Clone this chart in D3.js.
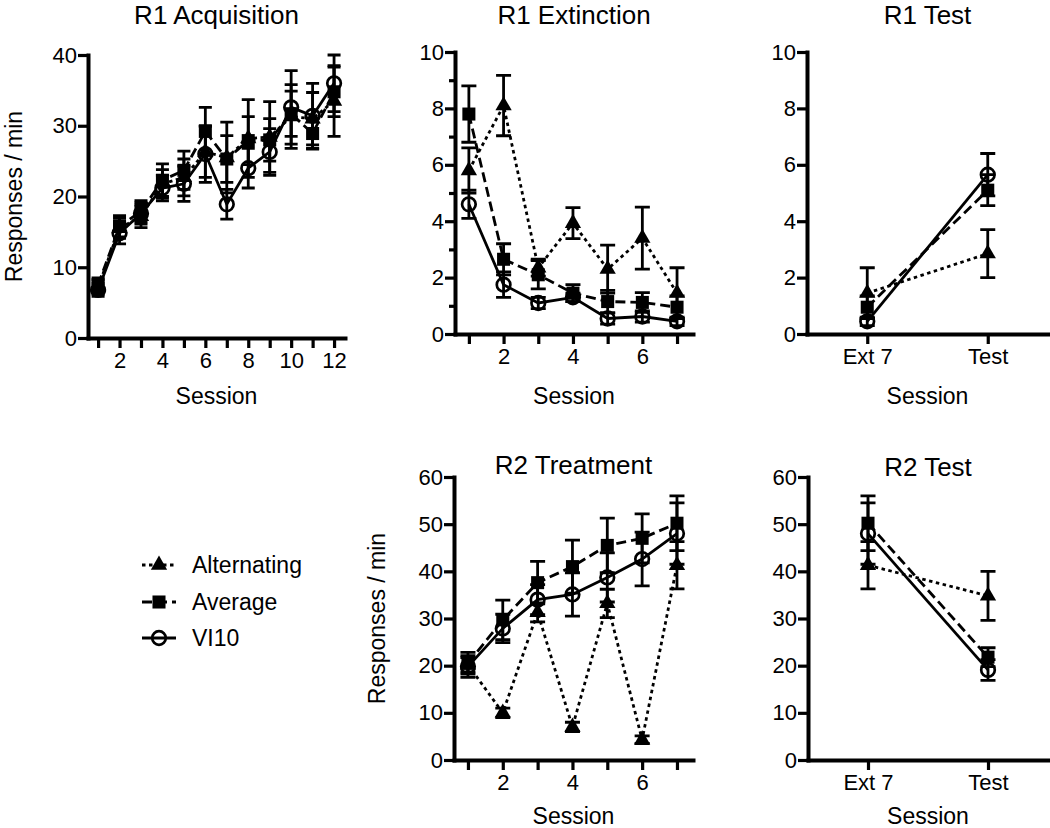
<!DOCTYPE html>
<html>
<head>
<meta charset="utf-8">
<script src="https://cdn.jsdelivr.net/npm/d3@7"></script>
<style>
  body { margin: 0; background: #fff; }
  svg text { font-family: "Liberation Sans", Arial, sans-serif; fill: #000; }
</style>
</head>
<body>
<svg id="chart" width="1050" height="828"></svg>
<script>
// R1 Acquisition (sessions 1-12)
var acqSessions = [1, 2, 3, 4, 5, 6, 7, 8, 9, 10, 11, 12];
var acqAlt = [7.2, 15.5, 17.2, 21.8, 22.7, 26.3, 25.5, 28.2, 28.4, 31.3, 31.0, 33.5];
var acqAltSem = [1.0, 1.4, 1.6, 2.0, 2.6, 3.6, 5.0, 5.5, 5.0, 4.5, 3.7, 5.0];
var acqAvg = [7.5, 15.8, 17.9, 22.3, 23.7, 29.2, 25.3, 27.9, 28.0, 31.7, 28.9, 34.8];
var acqAvgSem = [1.0, 1.5, 1.5, 2.3, 2.7, 3.4, 3.3, 3.4, 3.0, 3.2, 2.2, 3.5];
var acqVi = [6.8, 14.8, 17.6, 21.2, 21.8, 26.0, 18.9, 24.0, 26.3, 32.6, 31.4, 36.0];
var acqViSem = [0.9, 1.5, 1.5, 1.8, 2.5, 4.0, 2.1, 2.8, 3.3, 5.2, 4.6, 4.0];

// R1 Extinction (sessions 1-7)
var extSessions = [1, 2, 3, 4, 5, 6, 7];
var extAlt = [5.8, 8.1, 2.35, 3.93, 2.3, 3.4, 1.45];
var extAltSem = [0.8, 1.07, 0.3, 0.55, 0.85, 1.1, 0.9];
var extAvg = [7.8, 2.65, 2.1, 1.45, 1.15, 1.12, 0.95];
var extAvgSem = [1.0, 0.55, 0.5, 0.3, 0.4, 0.35, 0.4];
var extVi = [4.6, 1.75, 1.1, 1.3, 0.55, 0.62, 0.45];
var extViSem = [0.5, 0.45, 0.2, 0.15, 0.2, 0.2, 0.15];

// Test phases
var testCats = ["Ext 7", "Test"];
var r1TestAlt = [1.45, 2.85], r1TestAltSem = [0.9, 0.85];
var r1TestAvg = [0.95, 5.1], r1TestAvgSem = [0.4, 0.55];
var r1TestVi = [0.45, 5.65], r1TestViSem = [0.15, 0.75];

// R2 Treatment (sessions 1-7)
var trtSessions = [1, 2, 3, 4, 5, 6, 7];
var trtAlt = [20.2, 10.0, 31.3, 7.0, 33.2, 4.3, 41.3];
var trtAltSem = [1.5, 1.0, 2.0, 1.0, 3.0, 0.8, 5.0];
var trtAvg = [20.5, 29.7, 37.6, 41.0, 45.5, 47.0, 50.2];
var trtAvgSem = [2.3, 4.2, 4.5, 5.6, 5.8, 5.2, 5.8];
var trtVi = [19.8, 27.9, 34.0, 35.1, 38.7, 42.6, 48.0];
var trtViSem = [2.3, 3.0, 3.2, 4.6, 5.2, 5.7, 6.5];

var r2TestAlt = [41.3, 34.8], r2TestAltSem = [5.0, 5.2];
var r2TestAvg = [50.2, 21.8], r2TestAvgSem = [5.8, 2.0];
var r2TestVi = [48.0, 19.1], r2TestViSem = [6.5, 2.2];

var groupNames = ["Alternating", "Average", "VI10"];

// line / marker style per group
var styles = {
  "Alternating": { dash: "3.5,3.5", marker: "triangle" },
  "Average": { dash: "10,5", marker: "square" },
  "VI10": { dash: null, marker: "circle" }
};

var svg = d3.select("#chart");
var font = "'Liberation Sans', Arial, sans-serif";

function series(xs, alt, altSem, avg, avgSem, vi, viSem) {
  var vals = [[alt, altSem], [avg, avgSem], [vi, viSem]];
  return groupNames.map(function(name, k) {
    return {
      name: name,
      points: xs.map(function(x, i) {
        return { x: x, m: vals[k][0][i], e: vals[k][1][i] };
      })
    };
  });
}

function drawMarker(sel, type, cx, cy) {
  if (type === "circle") {
    sel.append("circle")
      .attr("cx", cx).attr("cy", cy).attr("r", 6.8)
      .attr("fill", "none").attr("stroke", "#000").attr("stroke-width", 2.7);
  } else {
    var sym = type === "triangle" ? d3.symbolTriangle : d3.symbolSquare;
    var size = type === "triangle" ? 115 : 170;
    sel.append("path")
      .attr("d", d3.symbol().type(sym).size(size)())
      .attr("transform", "translate(" + cx + "," + cy + ")")
      .attr("fill", "#000");
  }
}

function drawPanel(p) {
  var g = svg.append("g");

  var y = d3.scaleLinear().domain([0, p.yMax]).range([p.bottom, p.top]);
  var x = p.categories
    ? d3.scalePoint().domain(p.categories).range([p.left, p.right]).padding(0.5)
    : d3.scaleLinear().domain(p.xDomain).range([p.left, p.right]);

  // axes
  var yAxis = d3.axisLeft(y).tickValues(p.yTicks).tickSize(10).tickSizeOuter(0).tickPadding(1);
  var xAxis = d3.axisBottom(x).tickSize(10).tickSizeOuter(0).tickPadding(4);
  if (p.categories) {
    xAxis.tickValues(p.categories);
  } else {
    xAxis.tickValues(p.xTicks).tickFormat(function(d) { return d % 2 === 0 ? d : ""; });
  }

  if (p.minor) {
    g.append("g")
      .attr("transform", "translate(" + p.left + ",0)")
      .call(d3.axisLeft(y).tickValues(p.minor).tickSize(6).tickFormat(""))
      .call(function(a) { a.select(".domain").remove(); })
      .selectAll("line").attr("stroke-width", 3.2);
  }

  var ya = g.append("g")
    .attr("transform", "translate(" + p.left + ",0)")
    .call(yAxis);
  var xa = g.append("g")
    .attr("transform", "translate(0," + p.bottom + ")")
    .call(xAxis);

  [ya, xa].forEach(function(a) {
    a.attr("font-size", 22).attr("font-family", font);
    a.select(".domain").attr("stroke-width", 4).attr("stroke-linecap", "square");
    a.selectAll(".tick line").attr("stroke-width", 3.2);
    a.selectAll(".tick text").attr("fill", "#000");
  });

  // title
  g.append("text")
    .attr("x", (p.left + p.right) / 2)
    .attr("y", p.titleY)
    .attr("text-anchor", "middle")
    .attr("font-size", 26)
    .text(p.title);

  // x axis label
  g.append("text")
    .attr("x", (p.left + p.right) / 2)
    .attr("y", p.xLabelY)
    .attr("text-anchor", "middle")
    .attr("font-size", 23)
    .text("Session");

  if (p.yLabelX) {
    g.append("text")
      .attr("transform", "translate(" + p.yLabelX + "," + ((p.top + p.bottom) / 2) + ") rotate(-90)")
      .attr("text-anchor", "middle")
      .attr("font-size", 23)
      .text("Responses / min");
  }

  var line = d3.line()
    .x(function(d) { return x(d.x); })
    .y(function(d) { return y(d.m); });

  var cw = p.cap / 2;

  p.data.forEach(function(s) {
    var st = styles[s.name];
    var sg = g.append("g");

    sg.append("path")
      .datum(s.points)
      .attr("d", line)
      .attr("fill", "none")
      .attr("stroke", "#000")
      .attr("stroke-width", 2.8)
      .attr("stroke-dasharray", st.dash);

    // error bars
    sg.selectAll(".err")
      .data(s.points)
      .enter().append("path")
      .attr("class", "err")
      .attr("d", function(d) {
        var cx = x(d.x), hi = y(d.m + d.e), lo = y(d.m - d.e);
        return "M" + (cx - cw) + "," + hi + "H" + (cx + cw) +
          "M" + cx + "," + hi + "V" + lo +
          "M" + (cx - cw) + "," + lo + "H" + (cx + cw);
      })
      .attr("fill", "none")
      .attr("stroke", "#000")
      .attr("stroke-width", 2.8);

    s.points.forEach(function(d) {
      drawMarker(sg, st.marker, x(d.x), y(d.m));
    });
  });
}

drawPanel({
  title: "R1 Acquisition", titleY: 24, xLabelY: 404, yLabelX: 22,
  left: 88, right: 345, top: 55, bottom: 338,
  xDomain: [0.53, 12.51], xTicks: acqSessions,
  yMax: 40, yTicks: [0, 10, 20, 30, 40], cap: 13,
  data: series(acqSessions, acqAlt, acqAltSem, acqAvg, acqAvgSem, acqVi, acqViSem)
});

drawPanel({
  title: "R1 Extinction", titleY: 24, xLabelY: 404,
  left: 455, right: 693, top: 52, bottom: 334,
  xDomain: [0.6, 7.46], xTicks: extSessions,
  yMax: 10, yTicks: [0, 2, 4, 6, 8, 10], minor: [1, 3, 5, 7, 9], cap: 15,
  data: series(extSessions, extAlt, extAltSem, extAvg, extAvgSem, extVi, extViSem)
});

drawPanel({
  title: "R1 Test", titleY: 24, xLabelY: 404,
  left: 807, right: 1048, top: 52, bottom: 334,
  categories: testCats,
  yMax: 10, yTicks: [0, 2, 4, 6, 8, 10], cap: 15,
  data: series(testCats, r1TestAlt, r1TestAltSem, r1TestAvg, r1TestAvgSem, r1TestVi, r1TestViSem)
});

drawPanel({
  title: "R2 Treatment", titleY: 474, xLabelY: 824, yLabelX: 385,
  left: 454, right: 693, top: 477, bottom: 760,
  xDomain: [0.6, 7.46], xTicks: trtSessions,
  yMax: 60, yTicks: [0, 10, 20, 30, 40, 50, 60], cap: 15,
  data: series(trtSessions, trtAlt, trtAltSem, trtAvg, trtAvgSem, trtVi, trtViSem)
});

drawPanel({
  title: "R2 Test", titleY: 476, xLabelY: 824,
  left: 808, right: 1048, top: 477, bottom: 760,
  categories: testCats,
  yMax: 60, yTicks: [0, 10, 20, 30, 40, 50, 60], cap: 15,
  data: series(testCats, r2TestAlt, r2TestAltSem, r2TestAvg, r2TestAvgSem, r2TestVi, r2TestViSem)
});

// legend
var legendY = [565, 602, 638];
var legend = svg.append("g");
groupNames.forEach(function(name, i) {
  var st = styles[name];
  var row = legend.append("g");
  row.append("line")
    .attr("x1", 142).attr("x2", 176)
    .attr("y1", legendY[i]).attr("y2", legendY[i])
    .attr("stroke", "#000").attr("stroke-width", 2.8)
    .attr("stroke-dasharray", st.dash);
  drawMarker(row, st.marker, 159, legendY[i]);
  row.append("text")
    .attr("x", 192).attr("y", legendY[i])
    .attr("dy", "0.36em")
    .attr("font-size", 23)
    .text(name);
});
</script>
</body>
</html>
